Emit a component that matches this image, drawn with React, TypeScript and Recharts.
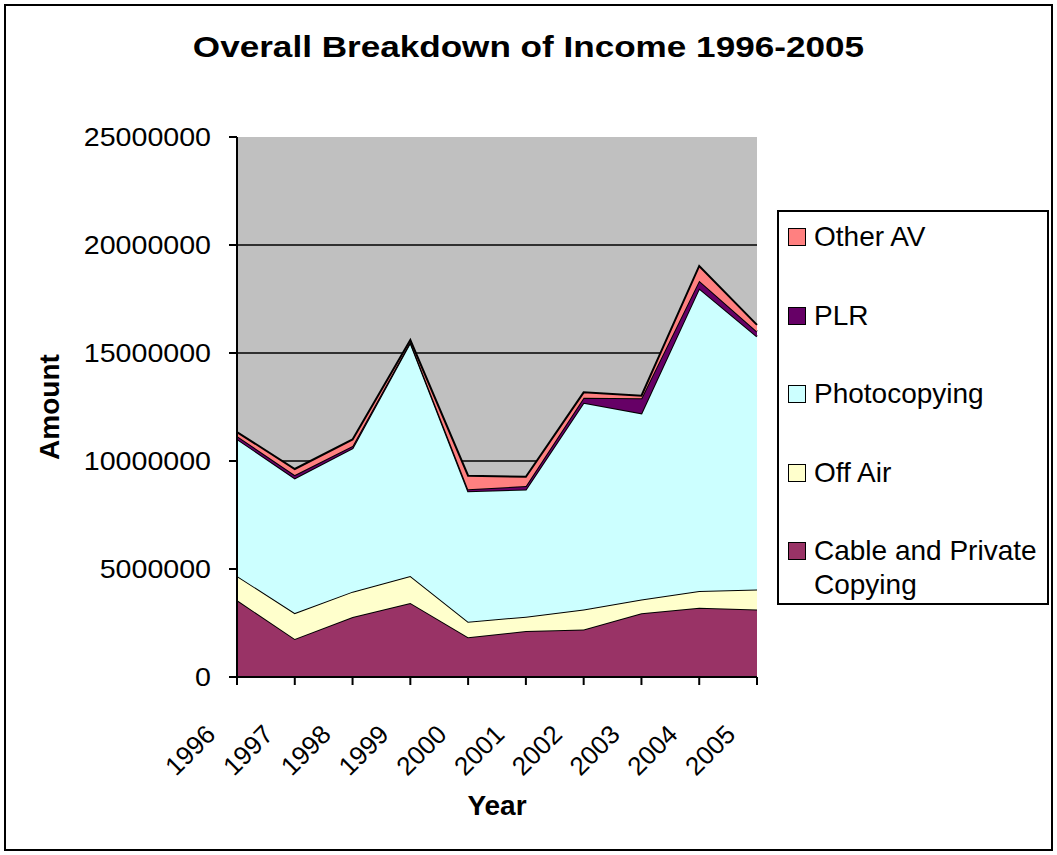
import React from "react";
import {
  AreaChart,
  Area,
  XAxis,
  YAxis,
  CartesianGrid,
  Legend,
  Label,
} from "recharts";

const years = ["1996", "1997", "1998", "1999", "2000", "2001", "2002", "2003", "2004", "2005"];

const cableAndPrivate = [3560000, 1760000, 2780000, 3430000, 1840000, 2130000, 2200000, 2950000, 3210000, 3120000];
const offAir = [1120000, 1200000, 1170000, 1250000, 720000, 660000, 920000, 640000, 770000, 930000];
const photocopying = [6340000, 6240000, 6640000, 10800000, 6040000, 5890000, 9580000, 8620000, 14010000, 11710000];
const plr = [140000, 150000, 100000, 50000, 90000, 160000, 230000, 690000, 360000, 230000];
const otherAv = [180000, 280000, 310000, 70000, 630000, 430000, 250000, 120000, 680000, 310000];

const yTicks = [0, 5000000, 10000000, 15000000, 20000000, 25000000];

const seriesKeys = ["cable", "offAir", "photocopying", "plr", "otherAv"];
const seriesNames = ["Cable and Private Copying", "Off Air", "Photocopying", "PLR", "Other AV"];
const seriesColors = ["#993366", "#FFFFCC", "#CCFFFF", "#660066", "#FF8080"];

const data = years.map((year, i) => ({
  year,
  cable: cableAndPrivate[i],
  offAir: offAir[i],
  photocopying: photocopying[i],
  plr: plr[i],
  otherAv: otherAv[i],
}));

const FONT = "'Liberation Sans', Arial, sans-serif";

// the original's text is a bit wider than plain Arial, so stretch it a little
function YearTick({ x, y, payload }: any) {
  return (
    <g transform={`translate(${x - 20},${y + 49}) rotate(-45)`}>
      <text x={0} y={0} textAnchor="end" fontSize={26} fontFamily={FONT} fill="#000">
        {payload.value}
      </text>
    </g>
  );
}

function AmountTick({ x, y, payload }: any) {
  return (
    <text
      transform={`translate(${x},${y}) scale(1.1,1)`}
      textAnchor="end"
      dy="0.355em"
      fontSize={26}
      fontFamily={FONT}
      fill="#000"
    >
      {payload.value}
    </text>
  );
}

function LegendBox() {
  const order = [4, 3, 2, 1, 0];
  return (
    <div
      style={{
        width: 268,
        height: 383,
        border: "2px solid #000",
        background: "#fff",
        fontFamily: FONT,
        fontSize: 28,
        lineHeight: "34px",
        paddingTop: 8,
        boxSizing: "content-box",
      }}
    >
      {order.map((i) => (
        <div key={seriesKeys[i]} style={{ display: "flex", alignItems: "flex-start", height: 78.5, paddingLeft: 9 }}>
          <span
            style={{
              display: "inline-block",
              width: 16,
              height: 16,
              marginTop: 8,
              marginRight: 8,
              flex: "none",
              background: seriesColors[i],
              border: "1.5px solid #000",
            }}
          />
          <span style={{ width: 236, color: "#000" }}>{seriesNames[i]}</span>
        </div>
      ))}
    </div>
  );
}

export default function App() {
  return (
    <div style={{ position: "absolute", left: 0, top: 0, width: 1057, height: 855, background: "#fff" }}>
      <div
        style={{
          position: "absolute",
          left: 4,
          top: 4,
          width: 1045,
          height: 843,
          border: "2px solid #000",
        }}
      />
      <div
        style={{
          position: "absolute",
          left: 0,
          top: 30,
          width: 1057,
          textAlign: "center",
          fontFamily: FONT,
          fontWeight: "bold",
          fontSize: 30,
          color: "#000",
          transform: "scaleX(1.17)",
          transformOrigin: "529px 0",
        }}
      >
        Overall Breakdown of Income 1996-2005
      </div>
      <div style={{ position: "absolute", left: 0, top: 0 }}>
        <AreaChart
          width={1057}
          height={855}
          data={data}
          margin={{ top: 137, right: 300, bottom: 0, left: 0 }}
        >
          <CartesianGrid
            fill="#C0C0C0"
            vertical={false}
            stroke="#000"
            strokeWidth={1.5}
            horizontalValues={[5000000, 10000000, 15000000, 20000000]}
          />
          <XAxis
            dataKey="year"
            height={178}
            axisLine={{ stroke: "#000", strokeWidth: 2 }}
            tickLine={{ stroke: "#000", strokeWidth: 2 }}
            tickSize={8}
            interval={0}
            tick={<YearTick />}
          >
            <Label
              content={({ viewBox }: any) => (
                <text
                  x={viewBox.x + viewBox.width / 2}
                  y={viewBox.y + 138}
                  textAnchor="middle"
                  fontSize={28}
                  fontWeight="bold"
                  fontFamily={FONT}
                  fill="#000"
                >
                  Year
                </text>
              )}
            />
          </XAxis>
          <YAxis
            width={237}
            domain={[0, 25000000]}
            ticks={yTicks}
            interval={0}
            axisLine={{ stroke: "#000", strokeWidth: 2 }}
            tickLine={{ stroke: "#000", strokeWidth: 2 }}
            tickSize={8}
            tickMargin={18}
            tick={<AmountTick />}
          >
            <Label
              content={({ viewBox }: any) => (
                <text
                  x={0}
                  y={0}
                  textAnchor="middle"
                  fontSize={28}
                  fontWeight="bold"
                  fontFamily={FONT}
                  fill="#000"
                  transform={`translate(${viewBox.x + 59},${viewBox.y + viewBox.height / 2}) rotate(-90)`}
                >
                  Amount
                </text>
              )}
            />
          </YAxis>
          {seriesKeys.map((key, i) => (
            <Area
              key={key}
              type="linear"
              dataKey={key}
              name={seriesNames[i]}
              stackId="income"
              fill={seriesColors[i]}
              fillOpacity={1}
              stroke="#000"
              strokeWidth={2}
              isAnimationActive={false}
            />
          ))}
          <Legend
            layout="vertical"
            align="center"
            verticalAlign="middle"
            content={() => <LegendBox />}
            wrapperStyle={{ left: 777, top: 210, width: 272, height: 393 }}
          />
        </AreaChart>
      </div>
    </div>
  );
}
